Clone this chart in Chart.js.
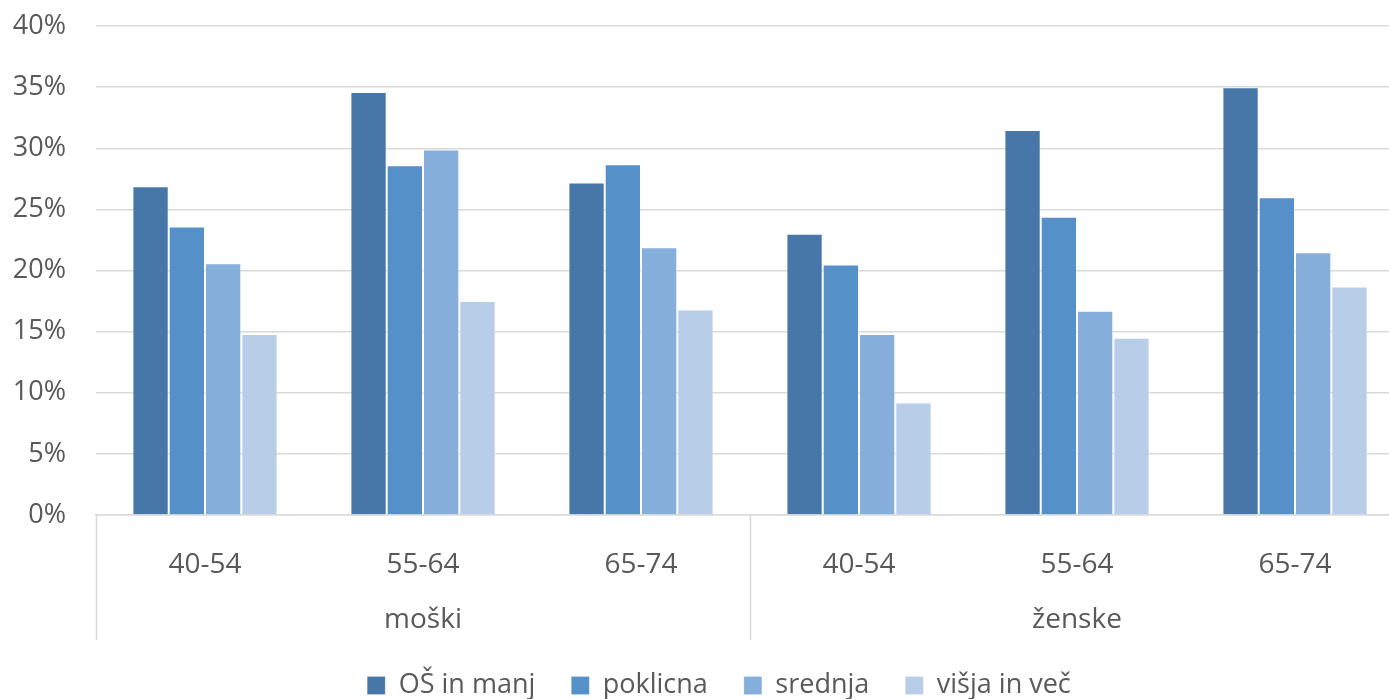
<!DOCTYPE html>
<html>
<head>
<meta charset="utf-8">
<script src="https://cdn.jsdelivr.net/npm/chart.js@4.4.1/dist/chart.umd.min.js"></script>
<style>
  body { margin: 0; background: #fff; overflow: hidden; }
  #clip { width: 1389px; height: 699px; overflow: hidden; }
  /* the plot area runs past the right edge of the picture, like the original */
  #wrap { width: 1404px; height: 699px; position: relative; }
</style>
</head>
<body>
<div id="clip"><div id="wrap"><canvas id="chart"></canvas></div></div>
<script>
// age bands, repeated for each sex
var categories = ['40-54', '55-64', '65-74', '40-54', '55-64', '65-74'];
var groups = ['moški', 'ženske'];
var yTicks = [0, 5, 10, 15, 20, 25, 30, 35, 40];

var osInManj = [26.9, 34.6, 27.2, 23.0, 31.5, 35.0];
var poklicna = [23.6, 28.6, 28.7, 20.5, 24.4, 26.0];
var srednja = [20.6, 29.9, 21.9, 14.8, 16.7, 21.5];
var visjaInVec = [14.8, 17.5, 16.8, 9.2, 14.5, 18.7];

var textColor = '#595959';
var gridColor = '#d9d9d9';
var fontFamily = '"Open Sans", sans-serif';

// draws the second row of the x axis (sex) and its separators
var groupAxis = {
  id: 'groupAxis',
  afterLayout: function(chart) {
    // legend sits a little right of centre in the original
    if (chart.legend) {
      chart.legend.left += 17;
      chart.legend.right += 17;
    }
  },
  afterDraw: function(chart) {
    var x = chart.scales.x;
    var ctx = chart.ctx;
    var per = categories.length / groups.length;
    var top = x.top;
    var bottom = x.top + 125;
    ctx.save();
    ctx.strokeStyle = gridColor;
    ctx.lineWidth = 1.5;
    for (var g = 0; g <= groups.length; g++) {
      var px;
      if (g === 0) px = x.left;
      else if (g === groups.length) px = x.right;
      else px = (x.getPixelForValue(g * per - 1) + x.getPixelForValue(g * per)) / 2;
      ctx.beginPath();
      ctx.moveTo(Math.round(px) + 0.5, top);
      ctx.lineTo(Math.round(px) + 0.5, bottom);
      ctx.stroke();
    }
    ctx.fillStyle = textColor;
    ctx.font = '28px ' + fontFamily;
    ctx.textAlign = 'center';
    ctx.textBaseline = 'middle';
    for (var i = 0; i < groups.length; i++) {
      var a = x.getPixelForValue(i * per);
      var b = x.getPixelForValue(i * per + per - 1);
      ctx.fillText(groups[i], (a + b) / 2, top + 105);
    }
    ctx.restore();
  }
};

new Chart(document.getElementById('chart'), {
  type: 'bar',
  data: {
    labels: categories,
    datasets: [
      { label: 'OŠ in manj', data: osInManj, backgroundColor: '#4677a8' },
      { label: 'poklicna', data: poklicna, backgroundColor: '#5591c8' },
      { label: 'srednja', data: srednja, backgroundColor: '#86aedb' },
      { label: 'višja in več', data: visjaInVec, backgroundColor: '#b8cde8' }
    ]
  },
  options: {
    responsive: true,
    maintainAspectRatio: false,
    animation: false,
    layout: { padding: { top: 0, right: 0, left: 0, bottom: -10 } },
    datasets: {
      bar: {
        categoryPercentage: 0.666,
        barPercentage: 1,
        borderWidth: 1,
        borderColor: 'rgba(255,255,255,0.2)'
      }
    },
    scales: {
      y: {
        min: 0,
        max: 40,
        afterBuildTicks: function(scale) {
          scale.ticks = yTicks.map(function(v) { return { value: v }; });
        },
        afterFit: function(scale) {
          scale.width = 96;
          scale.paddingTop = 26;
        },
        border: { display: false },
        grid: { color: gridColor, lineWidth: 1.5, drawTicks: false },
        ticks: {
          padding: 30,
          color: textColor,
          font: { family: fontFamily, size: 27 },
          callback: function(v) { return v + '%'; }
        }
      },
      x: {
        afterFit: function(scale) { scale.height = 121; },
        border: { display: true, color: gridColor, width: 1.5 },
        grid: { display: false },
        ticks: {
          padding: 25,
          color: textColor,
          font: { family: fontFamily, size: 28 },
          autoSkip: false,
          maxRotation: 0
        }
      }
    },
    plugins: {
      legend: {
        position: 'bottom',
        labels: {
          boxWidth: 18,
          boxHeight: 18,
          padding: 36,
          color: textColor,
          font: { family: fontFamily, size: 27 }
        }
      },
      tooltip: { enabled: false }
    }
  },
  plugins: [groupAxis]
});
</script>
</body>
</html>
